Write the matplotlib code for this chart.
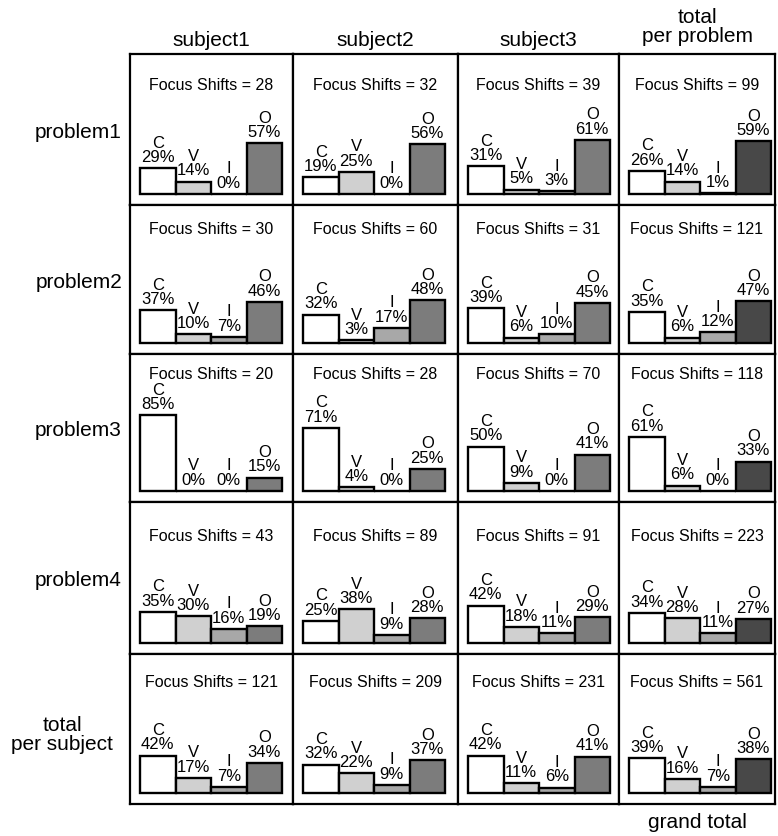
import matplotlib
matplotlib.use('Agg')
import matplotlib.pyplot as plt
import numpy as np

plt.rcParams['font.family'] = ['Liberation Sans', 'DejaVu Sans']

# data
columns = ['subject1', 'subject2', 'subject3', 'total\nper problem']
rows = ['problem1', 'problem2', 'problem3', 'problem4', 'total\nper subject']
categories = ['C', 'V', 'I', 'O']

focus_shifts = [[28, 32, 39, 99],
                [30, 60, 31, 121],
                [20, 28, 70, 118],
                [43, 89, 91, 223],
                [121, 209, 231, 561]]

pct_C = [[29, 19, 31, 26], [37, 32, 39, 35], [85, 71, 50, 61], [35, 25, 42, 34], [42, 32, 42, 39]]
pct_V = [[14, 25, 5, 14], [10, 3, 6, 6], [0, 4, 9, 6], [30, 38, 18, 28], [17, 22, 11, 16]]
pct_I = [[0, 0, 3, 1], [7, 17, 10, 12], [0, 0, 0, 0], [16, 9, 11, 11], [7, 9, 6, 7]]
pct_O = [[57, 56, 61, 59], [46, 48, 45, 47], [15, 25, 41, 33], [19, 28, 29, 27], [34, 37, 41, 38]]

# layout (pixels)
W, H = 778, 837
col_edges = [130, 293, 458, 619, 775]
row_edges = [55, 206, 355, 503, 655, 805]
title_off = [30, 24, 20, 34, 28]
bar_w = 35.5
left_pad = 10
base_pad = 11
px_per_pct = 0.89

fills = ['white', '#d0d0d0', '#a8a8a8', '#7c7c7c']
fills_total = ['white', '#d0d0d0', '#a8a8a8', '#484848']

fig = plt.figure(figsize=(W / 100, H / 100), dpi=100)

for r in range(len(rows)):
    for c in range(len(columns)):
        x0, x1 = col_edges[c], col_edges[c + 1]
        y0, y1 = row_edges[r], row_edges[r + 1]
        w, h = x1 - x0, y1 - y0
        ax = fig.add_axes([x0 / W, 1 - y1 / H, w / W, h / H])
        vals = [pct_C[r][c], pct_V[r][c], pct_I[r][c], pct_O[r][c]]
        xs = np.arange(4)
        cols = fills_total if c == 3 else fills
        ax.bar(xs, vals, width=1.0, color=cols, edgecolor='black', linewidth=1.7)
        xmin = -0.5 - left_pad / bar_w
        ax.set_xlim(xmin, xmin + w / bar_w)
        ymin = -base_pad / px_per_pct
        ax.set_ylim(ymin, ymin + h / px_per_pct)
        for x, v, lab in zip(xs, vals, categories):
            ax.annotate(f'{lab}\n{v}%', (x, v), xytext=(0, 3), textcoords='offset points',
                        ha='center', va='bottom', fontsize=12, linespacing=0.95)
        ax.text(0.5, 1 - title_off[r] / h, f'Focus Shifts = {focus_shifts[r][c]}',
                transform=ax.transAxes, ha='center', va='center', fontsize=11.5)
        ax.set_xticks([])
        ax.set_yticks([])
        for s in ax.spines.values():
            s.set_linewidth(1.6)

# column headers
for c, name in enumerate(columns):
    xc = (col_edges[c] + col_edges[c + 1]) / 2
    if '\n' in name:
        fig.text(xc / W, 1 - 27 / H, name, ha='center', va='center', fontsize=15, linespacing=1.05)
    else:
        fig.text(xc / W, 1 - 40 / H, name, ha='center', va='center', fontsize=15)

# row headers
for r, name in enumerate(rows):
    yc = (row_edges[r] + row_edges[r + 1]) / 2
    if '\n' in name:
        fig.text(62 / W, 1 - 735 / H, name, ha='center', va='center', fontsize=15, linespacing=1.05)
    else:
        fig.text(122 / W, 1 - (yc + 2) / H, name, ha='right', va='center', fontsize=15)

fig.text(697 / W, 1 - 823 / H, 'grand total', ha='center', va='center', fontsize=15)

fig.savefig('out.png', dpi=100)
